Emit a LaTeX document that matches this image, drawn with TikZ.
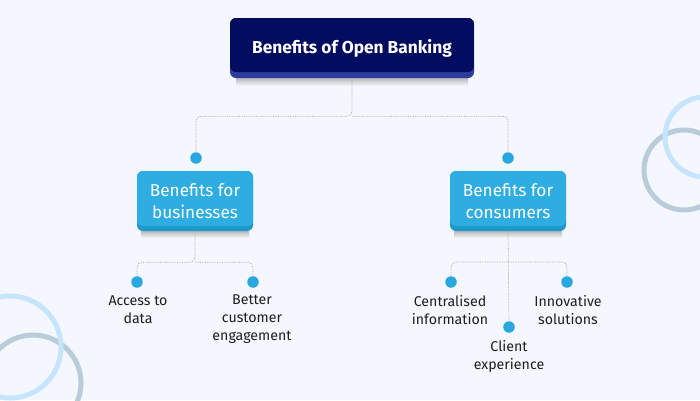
\documentclass[tikz,border=0pt]{standalone}
\usepackage{fontspec}
\setmainfont{Fira Sans}
\definecolor{bgc}{HTML}{F4F8FE}
\definecolor{navy}{HTML}{030D5F}
\definecolor{navyband}{HTML}{2D3D9D}
\definecolor{sky}{HTML}{2EADE2}
\definecolor{skyband}{HTML}{1E98C8}
\definecolor{dotc}{HTML}{2AA7E1}
\definecolor{ringlight}{HTML}{C6E4FB}
\definecolor{ringgray}{HTML}{B8CCDA}
\definecolor{conncol}{HTML}{A0A0A0}
\definecolor{labcol}{HTML}{1E1E1E}
\begin{document}
\begin{tikzpicture}[x=1pt,y=-1pt,
  boxbase/.style={rectangle, rounded corners=6pt, inner sep=0pt, align=center, text=white},
  topbox/.style={boxbase, fill=navyband, minimum width=244pt, minimum height=60pt,
     font=\bfseries\fontsize{17.3}{21}\selectfont,
     path picture={\fill[navy] ([yshift=6pt]path picture bounding box.south west) rectangle (path picture bounding box.north east);}},
  subbox/.style={boxbase, fill=skyband, minimum width=116pt, minimum height=60pt,
     font=\fontsize{17.2}{22}\selectfont,
     path picture={\fill[sky] ([yshift=5pt]path picture bounding box.south west) rectangle (path picture bounding box.north east);}},
  dotn/.style={circle, fill=dotc, minimum size=11.5pt, inner sep=0pt},
  lab/.style={align=center, text=labcol, inner sep=0pt, font=\fontsize{14.2}{18}\selectfont},
  conn/.style={draw=conncol, densely dotted, line width=0.7pt, rounded corners=5pt},
  ring/.style={line width=5pt}
]
\useasboundingbox (0,0) rectangle (700,400);
\fill[bgc] (0,0) rectangle (700,400);
\begin{scope}
  \clip (0,0) rectangle (700,400);
  \draw[ring, ringgray] (684,170) circle[radius=40pt];
  \draw[ring, ringlight] (705,137) circle[radius=40pt];
  \draw[ring, ringgray] (33,383) circle[radius=48pt];
  \draw[ring, ringlight] (10,347) circle[radius=51pt];
\end{scope}

% shadows
\shade[top color=black!28, bottom color=bgc] (236,78) rectangle (468,86);
\shade[top color=black!28, bottom color=bgc] (141,231) rectangle (249,238);
\shade[top color=black!28, bottom color=bgc] (454,231) rectangle (562,238);

% boxes
\node[topbox] (top) at (352,48) {Benefits of Open Banking};
\node[subbox] (bus) at (195,201) {Benefits for\\businesses};
\node[subbox] (con) at (508,201) {Benefits for\\consumers};

% dots
\node[dotn] (dbus) at (196,158) {};
\node[dotn] (dcon) at (508,158) {};
\node[dotn] (d1) at (137,282) {};
\node[dotn] (d2) at (253,282) {};
\node[dotn] (d3) at (451,282) {};
\node[dotn] (d4) at (567,282) {};
\node[dotn] (d5) at (509,327) {};

% connectors
\draw[conn] (top.south) -- ++(0,38) coordinate (hj) -| (dbus);
\draw[conn] (hj) -| (dcon);
\draw[conn] (bus.south) -- ++(0,31) coordinate (bj) -| (d1);
\draw[conn] (bj) -| (d2);
\draw[conn] (con.south) -- (d5);
\draw[conn] (con.south |- 0,262) coordinate (cj) -| (d3);
\draw[conn] (cj) -| (d4);

% labels
\node[lab] (l1) at (138,310) {Access to\\data};
\node[lab] (l2) at (252,319) {Better\\customer\\engagement};
\node[lab] (l3) at (450,310) {Centralised\\information};
\node[lab] (l4) at (568,310) {Innovative\\solutions};
\node[lab] (l5) at (509,356) {Client\\experience};
\end{tikzpicture}
\end{document}
